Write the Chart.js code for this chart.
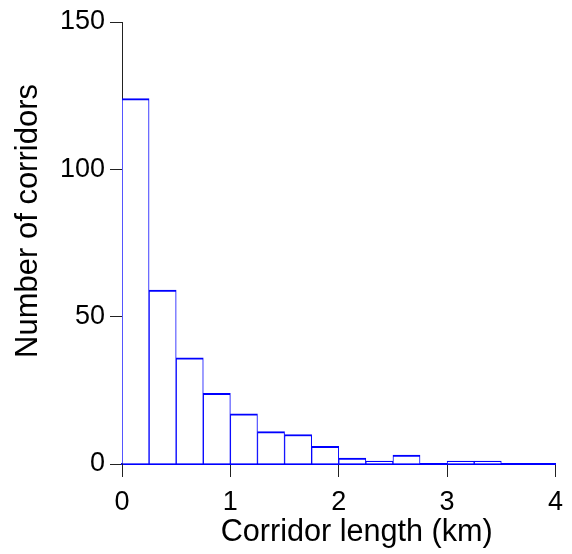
<!DOCTYPE html>
<html>
<head>
<meta charset="utf-8">
<script src="https://cdn.jsdelivr.net/npm/chart.js@4/dist/chart.umd.min.js"></script>
<style>
  html, body { margin: 0; padding: 0; background: #fff; }
  #wrap { width: 572px; height: 554px; }
</style>
</head>
<body>
<div id="wrap"><canvas id="hist" width="572" height="554"></canvas></div>
<script>
// histogram bins (km) and corridor counts
const binStart = [0, 0.25, 0.5, 0.75, 1, 1.25, 1.5, 1.75, 2, 2.25, 2.5, 2.75, 3, 3.25, 3.5, 3.75];
const binWidth = 0.25;
const counts = [124, 59, 36, 24, 17, 11, 10, 6, 2, 1, 3, 0, 1, 1, 0, 0];
const xTickLabels = ["0", "1", "2", "3", "4"];
const yTickLabels = ["0", "50", "100", "150"];
const xTitle = "Corridor length (km)";
const yTitle = "Number of corridors";

const FONT = "'Liberation Sans', Arial, sans-serif";

const points = binStart.map((s, i) => ({ x: s + binWidth / 2, y: counts[i] }));

// axis titles sit a bit off-centre in the original, so draw them by hand
const axisTitles = {
  id: "axisTitles",
  afterDraw(chart) {
    const { ctx, chartArea: ca } = chart;
    ctx.save();
    ctx.fillStyle = "#000";
    ctx.textAlign = "center";
    ctx.textBaseline = "middle";
    ctx.font = "30.6px " + FONT;
    ctx.fillText(xTitle, (ca.left + ca.right) / 2 + 18, 533);
    ctx.translate(28, (ca.top + ca.bottom) / 2 - 22);
    ctx.rotate(-Math.PI / 2);
    ctx.font = "31px " + FONT;
    ctx.fillText(yTitle, 0, 0);
    ctx.restore();
  }
};

const ctx = document.getElementById("hist").getContext("2d");
const chart = new Chart(ctx, {
  type: "bar",
  data: {
    datasets: [{
      data: points,
      backgroundColor: "#ffffff",
      borderColor: "#0000ff",
      borderWidth: { top: 2, left: 1, right: 1, bottom: 0 },
      borderSkipped: false,
      barPercentage: 1,
      categoryPercentage: 1
    }]
  },
  options: {
    responsive: false,
    devicePixelRatio: 1,
    animation: false,
    layout: { padding: { left: 10, right: 10, top: 22, bottom: 0 } },
    plugins: { legend: { display: false }, tooltip: { enabled: false } },
    scales: {
      x: {
        type: "linear",
        min: 0,
        max: 4,
        offset: false,
        afterFit: (s) => { s.height = 90; },
        border: { display: true, color: "#0000ff", width: 2 },
        grid: { display: true, drawOnChartArea: false, drawTicks: true, tickLength: 13, color: "#222", offset: false },
        ticks: {
          stepSize: 1,
          padding: 9,
          color: "#000",
          font: { family: FONT, size: 27 },
          maxRotation: 0,
          callback: (v) => xTickLabels[v] ?? ""
        }
      },
      y: {
        min: 0,
        max: 150,
        afterFit: (s) => { s.width = 112; },
        border: { display: true, color: "#222", width: 1 },
        grid: { display: true, drawOnChartArea: false, drawTicks: true, tickLength: 12, color: "#222" },
        ticks: {
          stepSize: 50,
          padding: 5,
          color: "#000",
          font: { family: FONT, size: 27 },
          callback: (v) => yTickLabels[v / 50] ?? ""
        }
      }
    }
  },
  plugins: [axisTitles]
});
</script>
</body>
</html>
